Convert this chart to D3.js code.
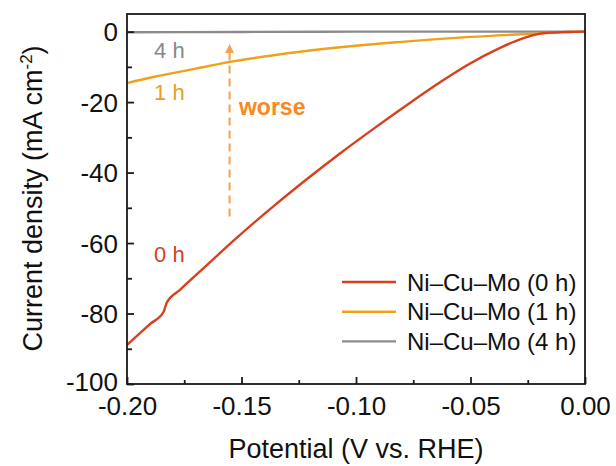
<!DOCTYPE html>
<html>
<head>
<meta charset="utf-8">
<script src="https://cdnjs.cloudflare.com/ajax/libs/d3/7.8.5/d3.min.js"></script>
<style>
body { margin: 0; background: #fff; }
svg { font-family: "Liberation Sans", Arial, Helvetica, sans-serif; }
</style>
</head>
<body>
<div id="chart"></div>
<script>
// LSV curves - Ni-Cu-Mo after 0, 1 and 4 h

var potential0h = [-0.2, -0.19, -0.184, -0.1827, -0.1769, -0.165, -0.1536, -0.1361, -0.1215, -0.107, -0.0924, -0.0779, -0.0633, -0.0517, -0.0371, -0.03, -0.0226, -0.0167, -0.008, 0];
var current0h   = [-88.9, -83.0, -79.5, -77.0, -73.3, -66.2, -59.4, -49.6, -41.9, -34.6, -27.6, -20.9, -14.4, -9.6, -4.6, -2.6, -1.0, -0.35, -0.1, 0];

var potential1h = [-0.2, -0.19, -0.17, -0.155, -0.1245, -0.1, -0.08, -0.0662, -0.05, -0.0227, -0.01, 0];
var current1h   = [-14.6, -13.1, -10.5, -8.6, -5.7, -4.0, -2.9, -2.2, -1.5, -0.6, -0.2, 0];

var potential4h = [-0.2, -0.15, -0.1, -0.05, 0];
var current4h   = [-0.2, -0.1, 0, 0, 0];

var seriesNames = ['Ni\u2013Cu\u2013Mo (0 h)', 'Ni\u2013Cu\u2013Mo (1 h)', 'Ni\u2013Cu\u2013Mo (4 h)'];
var seriesColors = ['#d5401e', '#efa11a', '#8c8c8c'];

var xTicks = [-0.20, -0.15, -0.10, -0.05, 0.00];
var xMinor = [-0.175, -0.125, -0.075, -0.025];
var yTicks = [-100, -80, -60, -40, -20, 0];
var yMinor = [-90, -70, -50, -30, -10];

var width = 616, height = 466;
var margin = {left: 127, top: 14, right: 31, bottom: 82};

var svg = d3.select('#chart')
.append('svg')
.attr('width', width)
.attr('height', height)
;

var x = d3.scaleLinear()
.domain([-0.2, 0])
.range([margin.left, width - margin.right]);

var y = d3.scaleLinear()
.domain([-100, 5])
.range([height - margin.bottom, margin.top]);

var series = [
    d3.zip(potential0h, current0h),
    d3.zip(potential1h, current1h),
    d3.zip(potential4h, current4h)
];

var line = d3.line()
.x(function(d){return x(d[0]);})
.y(function(d){return y(d[1]);})
.curve(d3.curveMonotoneX);

// curves - 4h first so it sits under the others
[2, 1, 0].forEach(function(i){
    svg.append('path')
    .datum(series[i])
    .attr('fill', 'none')
    .attr('stroke', seriesColors[i])
    .attr('stroke-width', 2.4)
    .attr('d', line);
});

// frame
svg.append('rect')
.attr('x', x(-0.2))
.attr('y', y(5))
.attr('width', x(0) - x(-0.2))
.attr('height', y(-100) - y(5))
.attr('fill', 'none')
.attr('stroke', '#1a1a1a')
.attr('stroke-width', 1.8);

// plain hyphen as minus sign, like the original
var fmtX = function(d){ return d3.format('.2f')(d).replace('\u2212', '-'); };
var fmtY = function(d){ return String(d); };

// x axis, ticks pointing in
var xAxis = svg.append('g')
.attr('transform', 'translate(0,' + y(-100) + ')')
.call(d3.axisBottom(x).tickValues(xTicks).tickSizeInner(-7).tickSizeOuter(0).tickPadding(13).tickFormat(fmtX));

svg.append('g')
.attr('transform', 'translate(0,' + y(-100) + ')')
.call(d3.axisBottom(x).tickValues(xMinor).tickSizeInner(-4).tickSizeOuter(0).tickFormat(''));

var yAxis = svg.append('g')
.attr('transform', 'translate(' + x(-0.2) + ',0)')
.call(d3.axisLeft(y).tickValues(yTicks).tickSizeInner(-7).tickSizeOuter(0).tickPadding(9).tickFormat(fmtY));

svg.append('g')
.attr('transform', 'translate(' + x(-0.2) + ',0)')
.call(d3.axisLeft(y).tickValues(yMinor).tickSizeInner(-5).tickSizeOuter(0).tickFormat(''));

svg.selectAll('.domain').remove();
svg.selectAll('.tick line').attr('stroke', '#1a1a1a').attr('stroke-width', 1.8);
svg.selectAll('.tick text')
.attr('fill', '#111')
.style('font-size', '26px')
.style('font-family', '"Liberation Sans", Arial, sans-serif');
xAxis.selectAll('.tick text').attr('dy', '0.71em');
yAxis.selectAll('.tick text').attr('dy', function(d){ return d === -100 ? '0.26em' : '0.36em'; });

// axis titles
svg.append('text')
.attr('x', x(-0.1))
.attr('y', 458)
.attr('text-anchor', 'middle')
.style('font-size', '27px')
.attr('fill', '#111')
.text('Potential (V vs. RHE)');

var yTitle = svg.append('text')
.attr('transform', 'translate(42,198.5) rotate(-90)')
.attr('text-anchor', 'middle')
.style('font-size', '27px')
.attr('fill', '#111');
yTitle.append('tspan').text('Current density (mA cm');
yTitle.append('tspan').attr('dy', -10).style('font-size', '17px').text('-2');
yTitle.append('tspan').attr('dy', 10).text(')');

// curve labels
var labels = [
    {t: '0 h', px: -0.1815, v: -65.3, c: '#d5401e'},
    {t: '1 h', px: -0.1815, v: -19.3, c: '#e9a020'},
    {t: '4 h', px: -0.1815, v: -7.4, c: '#888888'}
];
svg.selectAll('text.curvelabel')
.data(labels)
.enter()
.append('text')
.attr('class', 'curvelabel')
.attr('x', function(d){return x(d.px);})
.attr('y', function(d){return y(d.v);})
.attr('text-anchor', 'middle')
.style('font-size', '22px')
.attr('fill', function(d){return d.c;})
.text(function(d){return d.t;});

// dashed arrow 'worse'
svg.append('line')
.attr('x1', x(-0.1552))
.attr('x2', x(-0.1552))
.attr('y1', y(-52.5))
.attr('y2', y(-6))
.attr('stroke', '#f5a04a')
.attr('stroke-width', 2)
.attr('stroke-dasharray', '8,5');

svg.append('path')
.attr('d', 'M' + x(-0.1552) + ',' + (y(-3.5)) + 'l-4.5,9h9z')
.attr('fill', '#f5a04a');

svg.append('text')
.attr('x', x(-0.1511))
.attr('y', y(-23.7))
.style('font-size', '23px')
.style('font-weight', 'bold')
.attr('fill', '#f7891f')
.text('worse');

// legend
var legend = svg.selectAll('g.legend')
.data(seriesNames)
.enter()
.append('g')
.attr('class', 'legend')
.attr('transform', function(d, i){return 'translate(342,' + (282 + i * 29.7) + ')';});

legend.append('line')
.attr('x1', 0)
.attr('x2', 54)
.attr('stroke', function(d, i){return seriesColors[i];})
.attr('stroke-width', 2.4);

legend.append('text')
.attr('x', 65)
.attr('y', 8.5)
.style('font-size', '24px')
.attr('fill', '#111')
.text(function(d){return d;});
</script>
</body>
</html>
